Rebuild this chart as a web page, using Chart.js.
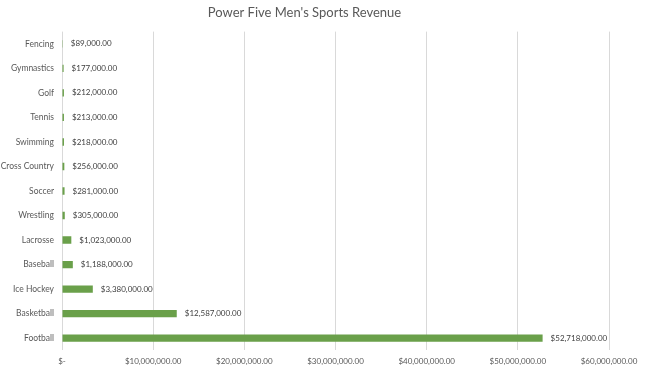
<!DOCTYPE html>
<html><head><meta charset="utf-8">
<script src="https://cdn.jsdelivr.net/npm/chart.js@4/dist/chart.umd.min.js"></script>
<style>html,body{margin:0;padding:0;background:#fff}#wrap{width:645px;height:369px}</style>
</head><body><div id="wrap"><canvas id="c"></canvas></div>
<script>
const categories = ["Fencing","Gymnastics","Golf","Tennis","Swimming","Cross Country","Soccer","Wrestling","Lacrosse","Baseball","Ice Hockey","Basketball","Football"];
const revenue = [89000,177000,212000,213000,218000,256000,281000,305000,1023000,1188000,3380000,12587000,52718000];
const xTicks = [0,10000000,20000000,30000000,40000000,50000000,60000000];

function money(v){
  if (v === 0) return "$-";
  return "$" + v.toLocaleString("en-US",{minimumFractionDigits:2,maximumFractionDigits:2});
}
const FONT = "Lato, 'Open Sans', sans-serif";
const labelPlugin = {
  id:'valLabels',
  afterDatasetsDraw(chart){
    const ctx = chart.ctx;
    const meta = chart.getDatasetMeta(0);
    ctx.save();
    ctx.font = "8px " + FONT;
    ctx.fillStyle = "#404040";
    ctx.textBaseline = "middle";
    ctx.textAlign = "left";
    meta.data.forEach((bar,i)=>{
      const x = Math.max(bar.x, chart.scales.x.getPixelForValue(0));
      ctx.fillText(money(revenue[i]), x + 8, bar.y);
    });
    ctx.restore();
  }
};
new Chart(document.getElementById('c'),{
  type:'bar',
  data:{labels:categories,datasets:[{data:revenue,backgroundColor:'#6aa04a',borderWidth:0,barPercentage:0.6,categoryPercentage:0.5}]},
  plugins:[labelPlugin],
  options:{
    indexAxis:'y',responsive:true,maintainAspectRatio:false,animation:false,
    layout:{padding:{left:0,right:36,top:0,bottom:-3}},
    plugins:{
      legend:{display:false},tooltip:{enabled:false},
      title:{display:true,text:"Power Five Men's Sports Revenue",color:'#595959',font:{family:FONT,size:13,weight:'normal'},padding:{top:5,bottom:11}}
    },
    scales:{
      x:{min:0,max:60000000,
        afterBuildTicks(s){s.ticks = xTicks.map(v=>({value:v}));},
        grid:{color:'#d9d9d9',drawTicks:false,tickLength:0,lineWidth:1},
        border:{display:false},
        ticks:{color:'#595959',font:{family:FONT,size:8},padding:6,maxRotation:0,autoSkip:false,callback:(v)=>money(v)}
      },
      y:{
        afterFit(s){s.width = 62;},
        grid:{display:false,drawTicks:false,tickLength:0},
        border:{display:false},
        ticks:{color:'#595959',font:{family:FONT,size:8.5},padding:8}
      }
    }
  }
});
</script></body></html>
